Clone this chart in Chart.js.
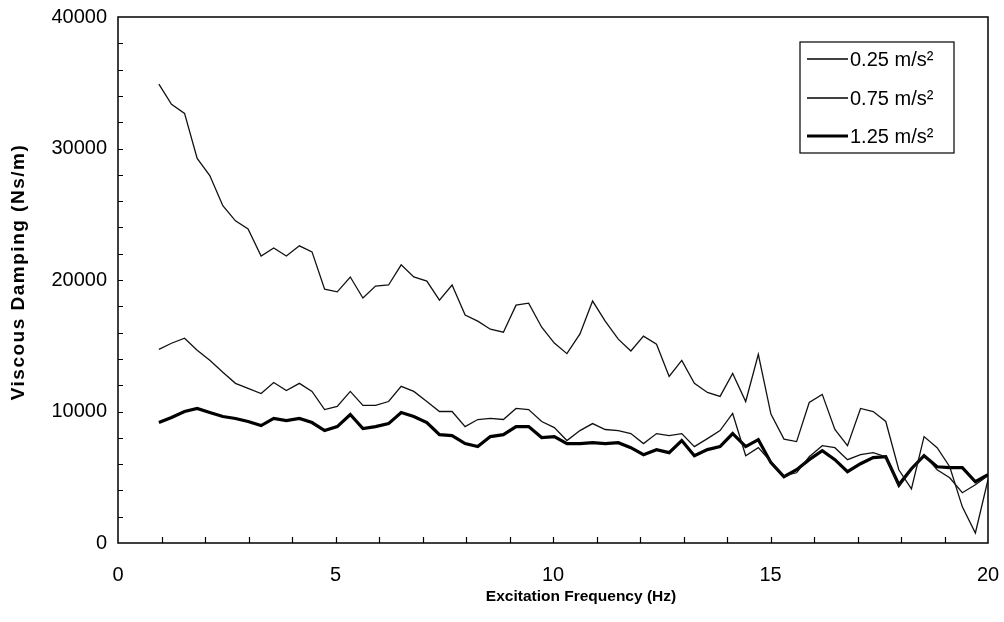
<!DOCTYPE html>
<html>
<head>
<meta charset="utf-8">
<title>Viscous Damping vs Excitation Frequency</title>
<script src="https://cdn.jsdelivr.net/npm/chart.js"></script>
<style>
  html, body { margin: 0; padding: 0; background: #fff; }
  #wrap { width: 1004px; height: 622px; }
</style>
</head>
<body>
<div id="wrap"><canvas id="dampingChart" width="1004" height="622"></canvas></div>
<script>
// excitation frequencies (Hz)
const freq = [0.94, 1.23, 1.53, 1.82, 2.11, 2.41, 2.70, 2.99, 3.29, 3.58, 3.87, 4.17, 4.46, 4.75, 5.04, 5.34, 5.63,
  5.92, 6.22, 6.51, 6.80, 7.10, 7.39, 7.68, 7.98, 8.27, 8.56, 8.86, 9.15, 9.44, 9.74, 10.03, 10.32, 10.62, 10.91,
  11.20, 11.50, 11.79, 12.08, 12.38, 12.67, 12.96, 13.25, 13.55, 13.84, 14.13, 14.43, 14.72, 15.01, 15.31, 15.60,
  15.89, 16.19, 16.48, 16.77, 17.07, 17.36, 17.65, 17.95, 18.24, 18.53, 18.83, 19.12, 19.41, 19.71, 20.00];

// viscous damping (Ns/m) at each excitation level
const damp025 = [34900, 33360, 32670, 29240, 27940, 25650, 24500, 23890, 21830, 22440, 21830, 22600, 22140, 19300,
  19100, 20230, 18630, 19540, 19620, 21150, 20230, 19920, 18470, 19620, 17330, 16870, 16260, 16030, 18090, 18240,
  16410, 15200, 14400, 15900, 18400, 16870, 15500, 14600, 15730, 15110, 12670, 13890, 12140, 11450, 11150, 12900,
  10760, 14350, 9800, 7900, 7710, 10690, 11300, 8630, 7400, 10230, 10000, 9240, 5570, 4120, 8090, 7250, 5800,
  2750, 760, 4810];
const damp075 = [14730, 15190, 15570, 14660, 13890, 12980, 12140, 11760, 11370, 12210, 11600, 12140, 11530, 10150,
  10380, 11530, 10460, 10460, 10760, 11910, 11530, 10760, 10000, 10000, 8850, 9390, 9470, 9390, 10230, 10150,
  9240, 8780, 7790, 8550, 9080, 8630, 8550, 8320, 7560, 8320, 8170, 8320, 7330, 7940, 8550, 9850, 6640, 7250,
  6180, 5110, 5340, 6560, 7400, 7250, 6340, 6720, 6870, 6560, 4270, 5570, 6720, 5570, 4960, 3820, 4430, 5110];
const damp125 = [9160, 9540, 10000, 10230, 9920, 9620, 9470, 9240, 8930, 9470, 9310, 9470, 9160, 8550, 8850, 9770,
  8700, 8850, 9080, 9920, 9620, 9160, 8240, 8170, 7560, 7330, 8090, 8240, 8850, 8850, 8020, 8090, 7560, 7560,
  7630, 7560, 7630, 7250, 6720, 7100, 6870, 7790, 6640, 7100, 7330, 8320, 7330, 7860, 6110, 5040, 5570, 6340,
  7020, 6340, 5420, 6030, 6490, 6560, 4430, 5650, 6640, 5800, 5730, 5730, 4660, 5190];

const seriesLabels = ['0.25 m/s²', '0.75 m/s²', '1.25 m/s²'];
const xLabelTicks = [0, 5, 10, 15, 20];
const yLabelTicks = [0, 10000, 20000, 30000, 40000];
const xTitle = 'Excitation Frequency (Hz)';
const yTitle = 'Viscous Damping (Ns/m)';

const FONT = 'Arial, "Liberation Sans", sans-serif';

const toPoints = arr => arr.map((v, i) => ({ x: freq[i], y: v }));

// frame, inward tick marks, axis titles and boxed legend
const framePlugin = {
  id: 'frame',
  afterDraw(chart) {
    const { ctx, chartArea: a, scales: { x, y } } = chart;
    ctx.save();
    ctx.strokeStyle = '#000';
    ctx.lineWidth = 1.5;
    ctx.strokeRect(a.left, a.top, a.right - a.left, a.bottom - a.top);

    ctx.lineWidth = 1.2;
    ctx.beginPath();
    for (let v = 1; v < 20; v++) {
      const px = Math.round(x.getPixelForValue(v)) + 0.5;
      ctx.moveTo(px, a.bottom);
      ctx.lineTo(px, a.bottom - 6);
    }
    for (let v = 2000; v < 40000; v += 2000) {
      const py = Math.round(y.getPixelForValue(v)) + 0.5;
      ctx.moveTo(a.left, py);
      ctx.lineTo(a.left + 5, py);
    }
    ctx.stroke();

    // axis titles (the x title sits a little right of centre)
    ctx.fillStyle = '#000';
    ctx.textAlign = 'center';
    ctx.textBaseline = 'middle';
    ctx.font = 'bold 15.5px ' + FONT;
    ctx.fillText(xTitle, 581, 597);
    ctx.save();
    ctx.translate(19, 272);
    ctx.rotate(-Math.PI / 2);
    ctx.font = 'bold 19px ' + FONT;
    ctx.letterSpacing = '1.5px';
    ctx.fillText(yTitle, 0, 0);
    ctx.restore();

    // legend
    const bx = 800, by = 42, bw = 154, bh = 111;
    ctx.lineWidth = 1.2;
    ctx.strokeRect(bx, by, bw, bh);
    const rows = [59, 98, 136];
    ctx.font = '20px ' + FONT;
    ctx.textAlign = 'left';
    chart.data.datasets.forEach((ds, i) => {
      ctx.beginPath();
      ctx.lineWidth = ds.borderWidth;
      ctx.moveTo(807, rows[i]);
      ctx.lineTo(848, rows[i]);
      ctx.stroke();
      ctx.fillText(ds.label, 850, rows[i] + 1);
    });
    ctx.restore();
  }
};

new Chart(document.getElementById('dampingChart'), {
  type: 'line',
  data: {
    datasets: [
      { label: seriesLabels[0], data: toPoints(damp025), borderColor: '#111', borderWidth: 1.3 },
      { label: seriesLabels[1], data: toPoints(damp075), borderColor: '#111', borderWidth: 1.3 },
      { label: seriesLabels[2], data: toPoints(damp125), borderColor: '#000', borderWidth: 3.2 }
    ]
  },
  options: {
    responsive: false,
    animation: false,
    layout: { padding: { top: 17, right: 16, left: 0, bottom: 0 } },
    elements: { point: { radius: 0 }, line: { tension: 0 } },
    plugins: { legend: { display: false }, tooltip: { enabled: false } },
    scales: {
      x: {
        type: 'linear', min: 0, max: 20,
        afterFit: s => { s.height = 79; s.paddingLeft = 0; s.paddingRight = 0; },
        grid: { drawOnChartArea: false, drawTicks: false },
        border: { display: false },
        ticks: {
          stepSize: 1, autoSkip: false, maxRotation: 0, padding: 20,
          color: '#000', font: { family: FONT, size: 20 },
          callback: v => xLabelTicks.includes(v) ? String(v) : ''
        }
      },
      y: {
        min: 0, max: 40000,
        afterFit: s => { s.width = 118; s.paddingTop = 0; s.paddingBottom = 0; },
        grid: { drawOnChartArea: false, drawTicks: false },
        border: { display: false },
        ticks: {
          stepSize: 2000, autoSkip: false, padding: 11,
          color: '#000', font: { family: FONT, size: 20 },
          callback: v => yLabelTicks.includes(v) ? String(v) : ''
        }
      }
    }
  },
  plugins: [framePlugin]
});
</script>
</body>
</html>
